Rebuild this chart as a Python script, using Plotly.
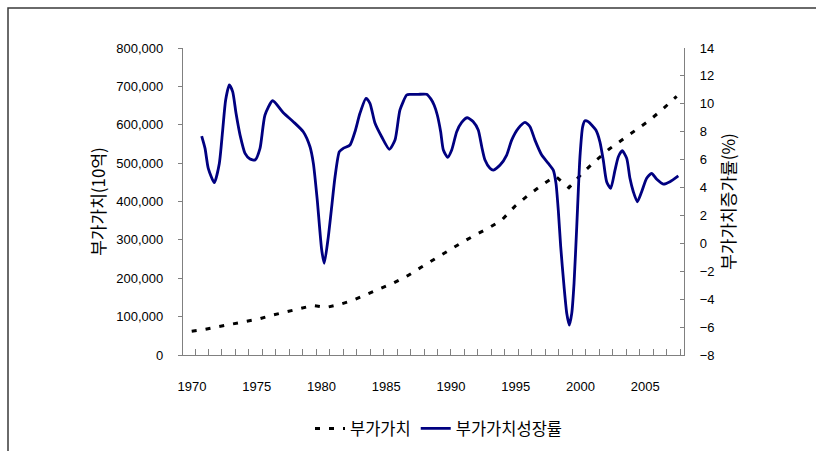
import plotly.graph_objects as go

# 부가가치 (10억 원), 연간
years = list(range(1970, 2007))
value_added = [
    62000, 67000, 74000, 81000, 87000, 94000, 104000, 113000, 122000, 129000,
    124000, 132000, 143000, 157000, 173000, 188000, 206000, 228000, 250000, 270000,
    292000, 312000, 330000, 351000, 388000, 417000, 443000, 466000, 436000, 474000,
    507000, 537000, 562000, 585000, 612000, 642000, 674000,
]

# 부가가치 증가율 (%)
growth_t = [
    1970.74, 1970.99, 1971.23, 1971.68, 1972.05, 1972.30, 1972.52, 1972.79, 1973.04, 1973.29,
    1973.59, 1973.96, 1974.33, 1974.70, 1975.07, 1975.44, 1976.01, 1976.80, 1977.54, 1978.28,
    1978.78, 1979.03, 1979.32, 1979.65, 1979.84, 1980.14, 1980.39, 1980.64, 1980.96, 1981.25,
    1981.75, 1982.12, 1982.49, 1982.94, 1983.23, 1983.61, 1984.10, 1984.67, 1985.09, 1985.46,
    1985.96, 1986.20, 1986.80, 1987.44, 1987.75, 1988.00, 1988.23, 1988.48, 1988.68, 1989.00,
    1989.30, 1989.67, 1990.04, 1990.46, 1990.90, 1991.27, 1991.53, 1991.77, 1992.14, 1992.39,
    1992.89, 1993.38, 1993.75, 1994.24, 1994.74, 1995.11, 1995.48, 1995.98, 1996.47, 1996.84,
    1997.04, 1997.21, 1997.39, 1997.64, 1997.84, 1998.03, 1998.21, 1998.38, 1998.58, 1998.82,
    1999.02, 1999.19, 1999.43, 2000.00, 2000.30, 2000.55, 2000.80, 2001.10, 2001.42, 2001.67,
    2001.96, 2002.29, 2002.53, 2002.78, 2003.08, 2003.40, 2003.77, 2004.14, 2004.52, 2005.01,
    2005.50, 2006.12,
]
growth_rate = [
    7.69, 6.81, 5.38, 4.35, 5.73, 8.12, 10.27, 11.35, 10.87, 9.32,
    7.76, 6.45, 6.04, 5.97, 6.81, 9.20, 10.22, 9.36, 8.72, 8.00,
    6.92, 5.73, 3.10, -0.48, -1.43, 0.47, 2.62, 4.77, 6.57, 6.81,
    7.05, 8.00, 9.32, 10.39, 10.04, 8.60, 7.64, 6.74, 7.40, 9.56,
    10.63, 10.68, 10.68, 10.68, 10.35, 9.90, 9.20, 8.00, 6.69, 6.16,
    6.69, 8.00, 8.67, 9.00, 8.72, 8.12, 6.92, 5.97, 5.38, 5.25,
    5.61, 6.33, 7.40, 8.24, 8.67, 8.36, 7.40, 6.33, 5.73, 5.25,
    4.30, 2.39, -0.24, -3.11, -5.02, -5.86, -5.02, -2.87, 1.19, 6.21,
    8.36, 8.79, 8.72, 8.12, 7.28, 5.97, 4.42, 3.94, 5.25, 6.21,
    6.64, 6.09, 4.66, 3.70, 2.98, 3.70, 4.66, 5.02, 4.59, 4.25,
    4.42, 4.84,
]

# 가로축 눈금 라벨
year_labels = [1970, 1975, 1980, 1985, 1990, 1995, 2000, 2005]

num_font = "Liberation Sans, Arial, Noto Sans CJK KR, sans-serif"
kr_font = "Noto Sans CJK KR, Liberation Sans, sans-serif"
axis_grey = "#808080"

fig = go.Figure()

fig.add_trace(go.Scatter(
    x=years, y=value_added, name="부가가치", mode="lines",
    line=dict(color="black", width=3, dash="5px,9px"),
    xaxis="x", yaxis="y",
))
fig.add_trace(go.Scatter(
    x=growth_t, y=growth_rate, name="부가가치성장률", mode="lines",
    line=dict(color="#000080", width=2.8, shape="spline", smoothing=0.6),
    xaxis="x", yaxis="y2",
))
# carrier for the labelled year axis
fig.add_trace(go.Scatter(
    x=[year_labels[0]], y=[None], mode="lines", showlegend=False,
    hoverinfo="skip", xaxis="x2", yaxis="y",
))

fig.update_layout(
    width=816, height=451,
    margin=dict(l=183, r=132, t=48, b=96, autoexpand=False),
    paper_bgcolor="white", plot_bgcolor="white",
    font=dict(family=num_font, size=13, color="black"),
    showlegend=True,
    legend=dict(
        orientation="h", x=0.51, y=-0.24, xanchor="center", yanchor="middle",
        font=dict(family=kr_font, size=16.5, color="black"),
        bgcolor="rgba(0,0,0,0)",
    ),
    xaxis=dict(
        range=[1969.354, 2006.542], showgrid=False, zeroline=False,
        showline=True, linecolor=axis_grey, linewidth=1.3,
        tickmode="linear", tick0=1970.245, dtick=1,
        ticks="inside", ticklen=6, tickcolor=axis_grey, showticklabels=False,
        automargin=False,
    ),
    xaxis2=dict(
        overlaying="x", anchor="y", side="bottom",
        range=[1969.3, 2008.0], showgrid=False, zeroline=False, showline=False,
        tickmode="array", tickvals=year_labels, ticktext=[str(v) for v in year_labels],
        ticks="", ticklabelstandoff=22, automargin=False,
        tickfont=dict(family=num_font, size=13, color="black"),
    ),
    yaxis=dict(
        range=[0, 800000], tickmode="linear", tick0=0, dtick=100000,
        tickformat=",d", showgrid=False, zeroline=False,
        showline=True, linecolor=axis_grey, linewidth=1.3,
        ticks="outside", ticklen=4, tickcolor=axis_grey, ticklabelstandoff=12,
        tickfont=dict(family=num_font, size=13, color="black"),
        automargin=False,
        title=dict(text="부가가치(10억)", font=dict(family=kr_font, size=17), standoff=6),
    ),
    yaxis2=dict(
        overlaying="y", side="right", anchor="x",
        range=[-8, 14], tickmode="linear", tick0=-8, dtick=2,
        showgrid=False, zeroline=False,
        showline=True, linecolor=axis_grey, linewidth=1.3,
        ticks="inside", ticklen=4, tickcolor=axis_grey, ticklabelstandoff=12,
        tickfont=dict(family=num_font, size=13, color="black"),
        automargin=False,
        title=dict(text="부가가치증가률(%)", font=dict(family=kr_font, size=17), standoff=1),
    ),
    shapes=[
        # chart-area border
        dict(type="rect", xref="paper", yref="paper",
             x0=(8 - 183) / 501, x1=(830 - 183) / 501,
             y0=(355 - 470) / 307, y1=(355 - 8) / 307,
             line=dict(color="#3a3a3a", width=1.5), fillcolor="rgba(0,0,0,0)",
             layer="below"),
    ],
)

fig.write_html("out.html")
